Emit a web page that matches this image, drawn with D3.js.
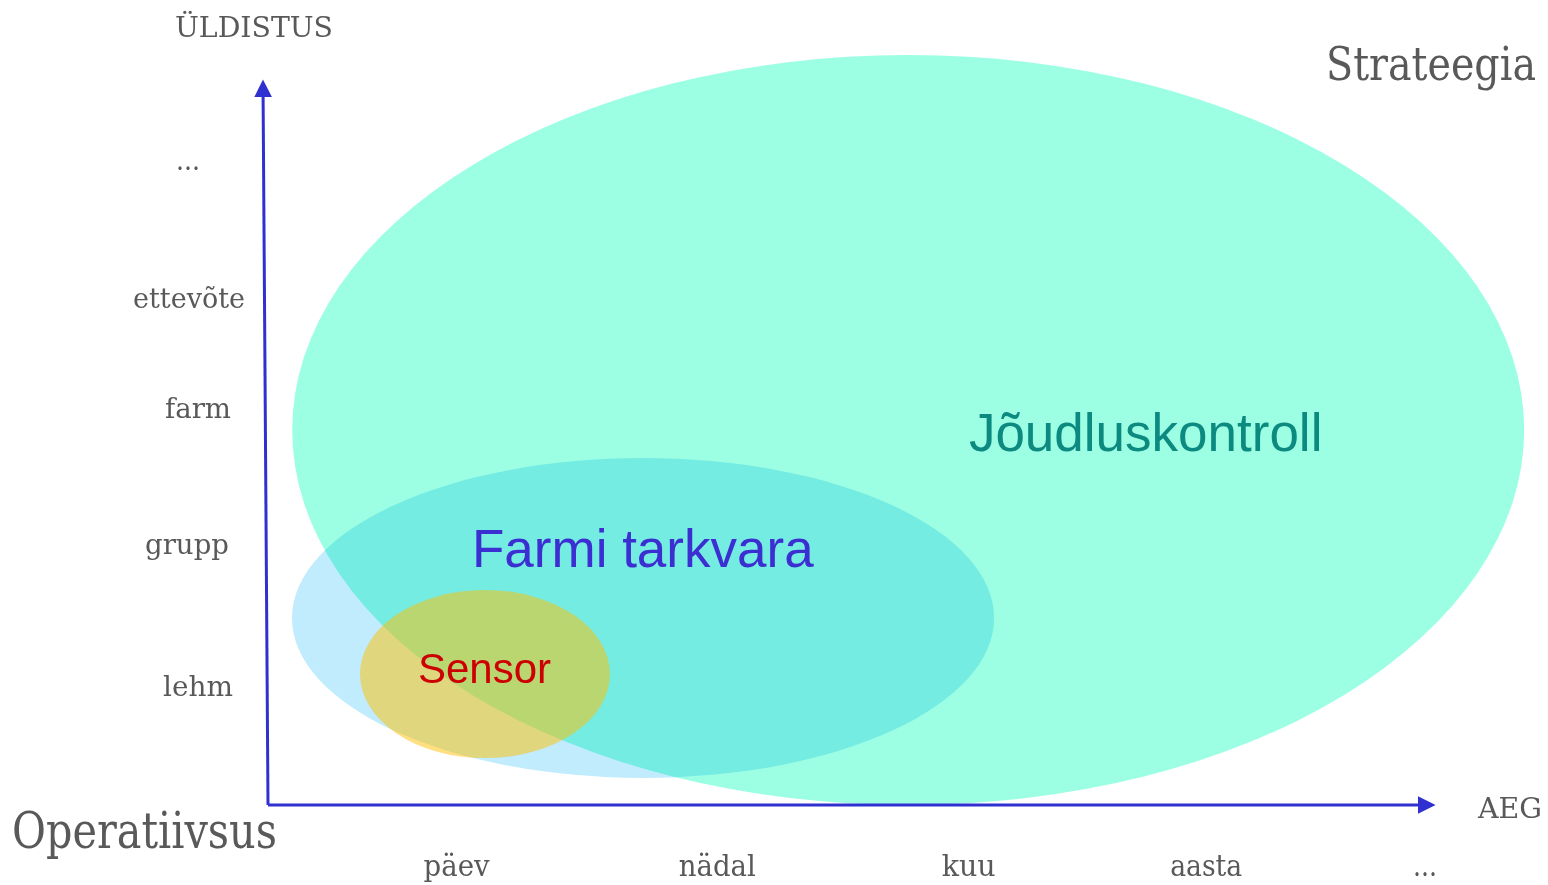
<!DOCTYPE html>
<html>
<head>
<meta charset="utf-8">
<script src="https://cdn.jsdelivr.net/npm/d3@7"></script>
<style>
  html, body { margin: 0; padding: 0; background: #fff; }
  svg { display: block; }
</style>
</head>
<body>
<div id="chart"></div>
<script>
// axis categories (positions in axis units)
var timeLabels = ['päev', 'nädal', 'kuu', 'aasta', '...'];
var timePos = [0.81, 1.93, 3.01, 4.03, 4.97];
var levelLabels = ['lehm', 'grupp', 'farm', 'ettevõte', '...'];
var levelPos = [0.76, 1.74, 2.69, 3.45, 4.41];

// systems: extent on time axis and level axis
var systems = ['Jõudluskontroll', 'Farmi tarkvara', 'Sensor'];
var sysTimeFrom = [0.104, 0.103, 0.395];
var sysTimeTo = [5.396, 3.119, 1.469];
var sysLevelFrom = [0.0, 0.188, 0.326];
var sysLevelTo = [5.208, 2.410, 1.493];
var sysLabelTime = [3.77, 1.61, 0.93];
var sysLabelLevel = [2.46, 1.65, 0.85];

var W = 1548, H = 885;
var x = d3.scaleLinear().domain([0, 5]).range([268, 1432]);
var y = d3.scaleLinear().domain([0, 5]).range([805, 85]);

var svg = d3.select('#chart').append('svg').attr('width', W).attr('height', H);

var fills = ['#9cffe4', '#c0ecfd', '#ffc000'];
var blend = ['normal', 'multiply', 'normal'];
var opac = [1, 1, 0.5];
var labelColor = ['#0d8a80', '#3c2fd2', '#cc0000'];
var labelSize = [53, 53, 42];

var sys = systems.map(function(name, i) {
    return {name: name, x0: sysTimeFrom[i], x1: sysTimeTo[i], y0: sysLevelFrom[i], y1: sysLevelTo[i],
            lx: sysLabelTime[i], ly: sysLabelLevel[i], i: i};
});

svg.selectAll('ellipse.sys').data(sys).enter().append('ellipse')
    .attr('class', 'sys')
    .attr('cx', function(d) { return (x(d.x0) + x(d.x1)) / 2; })
    .attr('cy', function(d) { return (y(d.y0) + y(d.y1)) / 2; })
    .attr('rx', function(d) { return (x(d.x1) - x(d.x0)) / 2; })
    .attr('ry', function(d) { return (y(d.y0) - y(d.y1)) / 2; })
    .style('fill', function(d) { return fills[d.i]; })
    .style('opacity', function(d) { return opac[d.i]; })
    .style('mix-blend-mode', function(d) { return blend[d.i]; });

svg.selectAll('text.sys').data(sys).enter().append('text')
    .attr('class', 'sys')
    .attr('x', function(d) { return x(d.lx); })
    .attr('y', function(d) { return y(d.ly); })
    .attr('text-anchor', 'middle')
    .style('font-family', '"Liberation Sans", Arial, sans-serif')
    .style('font-size', function(d) { return labelSize[d.i] + 'px'; })
    .style('fill', function(d) { return labelColor[d.i]; })
    .text(function(d) { return d.name; });

// axes with arrows
var defs = svg.append('defs');
defs.append('marker').attr('id', 'arr')
    .attr('viewBox', '0 0 10 10').attr('refX', 8).attr('refY', 5)
    .attr('markerWidth', 6).attr('markerHeight', 6).attr('orient', 'auto')
    .append('path').attr('d', 'M0,0L10,5L0,10Z').style('fill', '#3030d0');

svg.append('line')
    .attr('x1', x(0)).attr('y1', y(0)).attr('x2', x(0) - 5).attr('y2', y(5) - 2)
    .style('stroke', '#3030d0').style('stroke-width', 3).attr('marker-end', 'url(#arr)');
svg.append('line')
    .attr('x1', x(0)).attr('y1', y(0)).attr('x2', x(5)).attr('y2', y(0))
    .style('stroke', '#3030d0').style('stroke-width', 3).attr('marker-end', 'url(#arr)');

var serif = '"DejaVu Serif Condensed", "DejaVu Serif", Georgia, serif';
var grey = '#595959';

function label(t, px, py, size, len, anchor) {
    var el = svg.append('text').attr('x', px).attr('y', py)
        .attr('text-anchor', anchor || 'start')
        .style('font-family', serif).style('font-size', size + 'px').style('fill', grey)
        .text(t);
    if (len) el.attr('textLength', len).attr('lengthAdjust', 'spacingAndGlyphs');
    return el;
}

var tw = [66, 77, 54, 72, 24];
svg.selectAll('text.tick-x').data(timeLabels).enter().append('text')
    .attr('class', 'tick-x')
    .attr('x', function(d, i) { return x(timePos[i]); })
    .attr('y', 876)
    .attr('text-anchor', 'middle')
    .attr('textLength', function(d, i) { return tw[i]; })
    .attr('lengthAdjust', 'spacingAndGlyphs')
    .style('font-family', serif).style('font-size', '29px').style('fill', grey)
    .text(function(d) { return d; });

var lw = [70, 84, 66, 112, 24];
var lx = [198, 187, 198, 189, 188];
svg.selectAll('text.tick-y').data(levelLabels).enter().append('text')
    .attr('class', 'tick-y')
    .attr('x', function(d, i) { return lx[i]; })
    .attr('y', function(d, i) { return y(levelPos[i]); })
    .attr('text-anchor', 'middle')
    .attr('textLength', function(d, i) { return lw[i]; })
    .attr('lengthAdjust', 'spacingAndGlyphs')
    .style('font-family', serif).style('font-size', '28px').style('fill', grey)
    .text(function(d) { return d; });

label('ÜLDISTUS', 175, 37, 27, 158);
label('AEG', 1478, 818, 28, 64);
label('Strateegia', 1326, 80, 46, 210);
label('Operatiivsus', 12, 848, 50, 265);
</script>
</body>
</html>
